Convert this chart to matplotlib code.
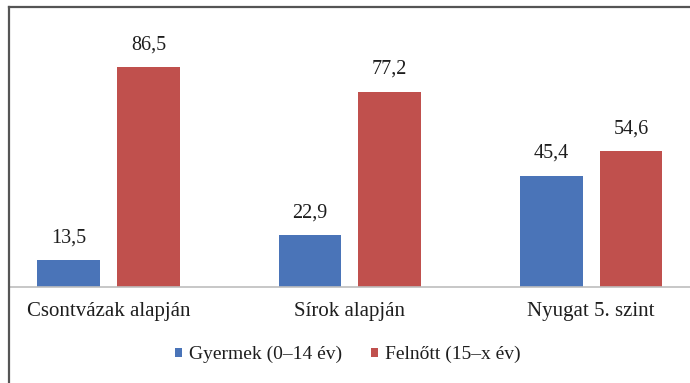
import matplotlib
matplotlib.use("Agg")
import matplotlib.pyplot as plt
from matplotlib.lines import Line2D
import numpy as np

categories = ["Csontvázak alapján", "Sírok alapján", "Nyugat 5. szint"]
series_names = ["Gyermek (0–14 év)", "Felnőtt (15–x év)"]
children = [13.5, 22.9, 45.4]
adults = [86.5, 77.2, 54.6]
colors = ["#4A74B8", "#C0504D"]

plt.rcParams["font.family"] = ["Liberation Serif", "DejaVu Serif"]
text_color = "#1e1e1e"

fig = plt.figure(figsize=(6.9, 3.83), dpi=100)
ax = fig.add_axes([0.014, 0.2507, 0.986, 0.70])

x = np.arange(len(categories))
offset = 0.165
width = 0.26
bars_c = ax.bar(x - offset, children, width, color=colors[0], label=series_names[0], zorder=2)
bars_a = ax.bar(x + offset, adults, width, color=colors[1], label=series_names[1], zorder=2)

for bars, vals in ((bars_c, children), (bars_a, adults)):
    for b, v in zip(bars, vals):
        ax.annotate(f"{v:.1f}".replace(".", ","),
                    xy=(b.get_x() + b.get_width() / 2, v),
                    xytext=(0, 9), textcoords="offset points",
                    ha="center", va="bottom", fontsize=14.5, color=text_color)

ax.set_xlim(-0.41, 2.41)
ax.set_ylim(3.2, 104.7)
ax.set_xticks(x)
ax.set_xticklabels(categories, fontsize=15, color=text_color)
ax.tick_params(axis="x", length=0, pad=11)
ax.set_yticks([])
for s in ("left", "right", "top"):
    ax.spines[s].set_visible(False)
ax.spines["bottom"].set_color("#bdbdbd")
ax.spines["bottom"].set_linewidth(1.2)

leg = fig.legend(handles=[bars_c, bars_a], labels=series_names,
                 loc="center", bbox_to_anchor=(0.504, 0.074), ncol=2,
                 frameon=False, fontsize=14, handlelength=0.35, handleheight=0.35,
                 handletextpad=0.35, columnspacing=1.5)
for t in leg.get_texts():
    t.set_color(text_color)

# outer frame (left and top edges)
fig.add_artist(Line2D([0.0135, 0.0135], [0.0, 0.982], transform=fig.transFigure,
                      color="#555555", linewidth=1.6))
fig.add_artist(Line2D([0.0125, 1.0], [0.982, 0.982], transform=fig.transFigure,
                      color="#555555", linewidth=1.6))

fig.savefig("out.png", dpi=100, facecolor="white")
